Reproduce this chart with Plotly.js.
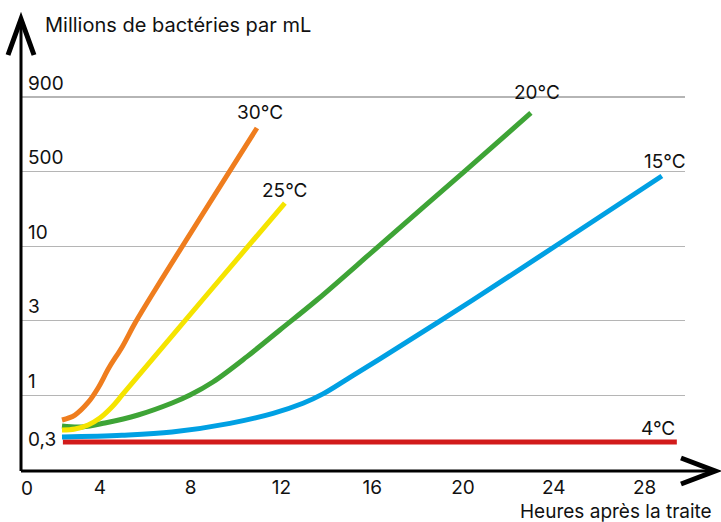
<!DOCTYPE html>
<html>
<head>
<meta charset="utf-8">
<script src="https://cdn.plot.ly/plotly-3.0.1.min.js"></script>
<style>html,body{margin:0;padding:0;background:#fff;}#chart{width:721px;height:522px;}</style>
</head>
<body>
<div id="chart"></div>
<script>
// Hours after milking (x) and position on the drawn y scale (levels between gridlines)
const seriesNames = ["4°C", "15°C", "20°C", "25°C", "30°C"];
const seriesColors = ["#D21B1B", "#00A0E3", "#3EA436", "#F5E400", "#EF7D1E"];

const x4 = [2.37, 29.42];
const y4 = [0.375, 0.375];

const x15 = [2.33, 4.97, 7.18, 9.73, 11.63, 12.95, 13.83, 14.88, 16.34, 20.43, 24.14, 28.76];
const y15 = [0.442, 0.466, 0.509, 0.625, 0.760, 0.895, 1.020, 1.215, 1.490, 2.279, 3.016, 3.941];

const x20 = [2.33, 3.21, 4.22, 5.68, 7.18, 7.97, 8.98, 10.48, 11.93, 13.56, 16.34, 20.13, 22.99];
const y20 = [0.590, 0.578, 0.630, 0.737, 0.898, 1.005, 1.180, 1.520, 1.877, 2.279, 3.016, 4.021, 4.786];

const x25 = [2.33, 2.90, 3.48, 4.00, 4.53, 5.02, 8.63, 12.15];
const y25 = [0.536, 0.550, 0.603, 0.697, 0.845, 1.019, 2.319, 3.579];

const x30 = [2.33, 2.90, 3.48, 3.92, 4.40, 5.00, 5.55, 6.43, 10.92];
const y30 = [0.670, 0.737, 0.905, 1.100, 1.370, 1.660, 1.970, 2.413, 4.584];

// Curve label positions
const labelX = [28.59, 28.89, 23.26, 12.15, 11.05];
const labelY = [0.563, 4.129, 5.054, 3.753, 4.786];

// Axis ticks
const xTickVals = [4, 8, 12, 16, 20, 24, 28];
const xTickText = ["4", "8", "12", "16", "20", "24", "28"];
const yGridLevels = [1, 2, 3, 4, 5];
const yTickText = ["1", "3", "10", "500", "900"];
const yBaseLabel = "0,3";
const yBaseLevel = 0.375;

const yTitle = "Millions de bactéries par mL";
const xTitle = "Heures après la traite";

const FONT = "Inter, Roboto, 'Noto Sans', sans-serif";

const xs = [x4, x15, x20, x25, x30];
const ys = [y4, y15, y20, y25, y30];

const traces = xs.map((xv, i) => ({
  type: "scatter",
  mode: "lines",
  x: xv,
  y: ys[i],
  name: seriesNames[i],
  line: {color: seriesColors[i], width: 5, shape: "spline", smoothing: 1.0},
  hoverinfo: "skip"
}));

const annotations = [];
seriesNames.forEach((n, i) => {
  annotations.push({
    text: n, x: labelX[i], y: labelY[i], xref: "x", yref: "y",
    showarrow: false, xanchor: "center", yanchor: "middle",
    font: {family: FONT, size: 19, color: "#111"}
  });
});
yGridLevels.forEach((lv, i) => {
  annotations.push({
    text: yTickText[i], x: 0.008, y: lv, xref: "paper", yref: "y",
    showarrow: false, xanchor: "left", yanchor: "middle", yshift: 14,
    font: {family: FONT, size: 19, color: "#111"}
  });
});
annotations.push({
  text: yBaseLabel, x: 0.008, y: yBaseLevel, xref: "paper", yref: "y",
  showarrow: false, xanchor: "left", yanchor: "middle", yshift: 3,
  font: {family: FONT, size: 19, color: "#111"}
});
annotations.push({
  text: "0", x: 0.009, y: -0.046, xref: "paper", yref: "paper",
  showarrow: false, xanchor: "center", yanchor: "middle",
  font: {family: FONT, size: 19, color: "#111"}
});
annotations.push({
  text: yTitle, x: 0.033, y: 1.085, xref: "paper", yref: "paper",
  showarrow: false, xanchor: "left", yanchor: "middle",
  font: {family: FONT, size: 20, color: "#111"}
});
annotations.push({
  text: xTitle, x: 1.044, y: -0.102, xref: "paper", yref: "paper",
  showarrow: false, xanchor: "right", yanchor: "middle",
  font: {family: FONT, size: 19, color: "#111"}
});

// paper coordinate helpers for axis arrows (plot area: x 21..685, y 60..470)
const px = v => (v - 21) / 664;
const py = v => (470 - v) / 410;

const shapes = [
  {type: "line", xref: "paper", yref: "paper", x0: 0, y0: py(471), x1: px(714), y1: py(471), line: {color: "#000", width: 3}},
  {type: "line", xref: "paper", yref: "paper", x0: 0, y0: py(471), x1: 0, y1: py(20), line: {color: "#000", width: 3}},
  {type: "path", xref: "paper", yref: "paper",
   path: `M ${px(681)} ${py(458)} L ${px(715)} ${py(471)} L ${px(681)} ${py(484)}`,
   line: {color: "#000", width: 5}, fillcolor: "rgba(0,0,0,0)"},
  {type: "path", xref: "paper", yref: "paper",
   path: `M ${px(8)} ${py(55)} L ${px(21)} ${py(19)} L ${px(34)} ${py(55)}`,
   line: {color: "#000", width: 5}, fillcolor: "rgba(0,0,0,0)"}
];

const layout = {
  width: 721, height: 522,
  margin: {l: 21, r: 36, t: 60, b: 52},
  paper_bgcolor: "#fff", plot_bgcolor: "#fff",
  showlegend: false,
  font: {family: FONT, color: "#111"},
  xaxis: {
    range: [0.524, 29.78], tickvals: xTickVals, ticktext: xTickText,
    showgrid: false, zeroline: false, showline: false, ticks: "",
    ticklabelstandoff: 4,
    tickfont: {family: FONT, size: 19, color: "#111"}
  },
  yaxis: {
    range: [0, 5.496], tickvals: yGridLevels, showticklabels: false,
    showgrid: true, gridcolor: "#b5b5b5", gridwidth: 1.3,
    zeroline: false, showline: false, ticks: ""
  },
  annotations: annotations,
  shapes: shapes
};

Plotly.newPlot("chart", traces, layout, {displayModeBar: false, staticPlot: true});
</script>
</body>
</html>
